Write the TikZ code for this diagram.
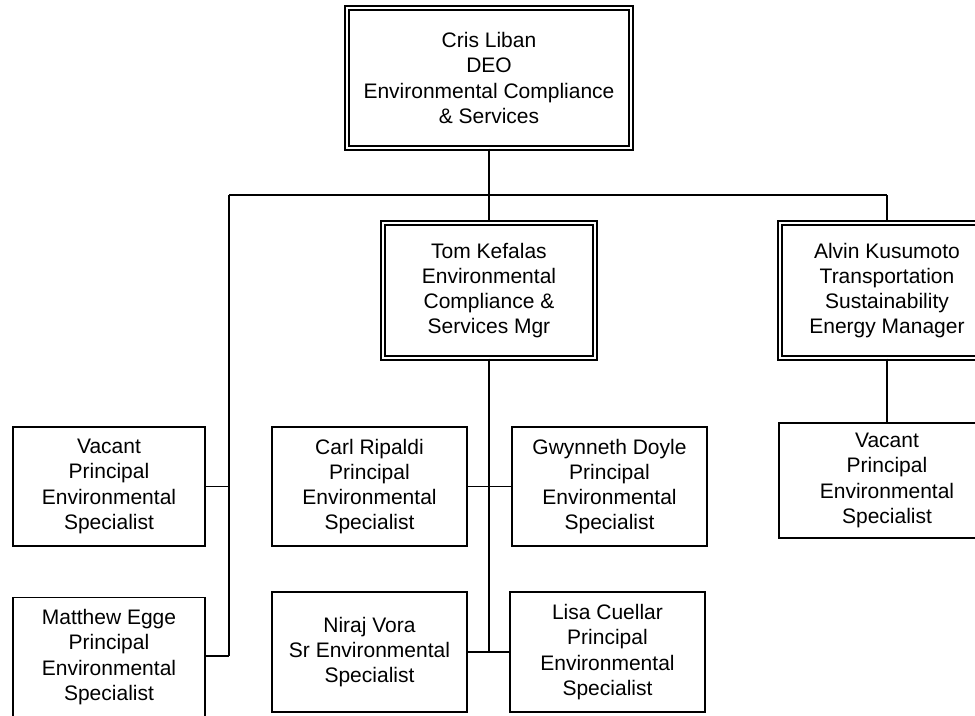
\documentclass[tikz,border=0pt]{standalone}
\usepackage{fontspec}
\setmainfont{Liberation Sans}
\begin{document}
\begin{tikzpicture}[x=0.75pt,y=-0.75pt,
  txt/.style={align=center,font=\fontsize{15.75}{18.9}\selectfont,inner sep=0pt},
  singlebox/.style={txt,draw,line width=1.2pt,rectangle},
  doublebox/.style={txt,draw,rectangle,double,line width=1pt,double distance=2pt},
  conn/.style={line width=1.4pt},
  thickconn/.style={line width=2pt}]
\useasboundingbox (0,0) rectangle (975,715);
\clip (0,0) rectangle (975,715);
\fill[white] (0,0) rectangle (975,715);
% nodes
\node[doublebox,minimum width=284*0.75pt,minimum height=140*0.75pt] (cris) at (489,78)
  {Cris Liban\\DEO\\Environmental Compliance\\\& Services};
\node[doublebox,minimum width=212*0.75pt,minimum height=135*0.75pt] (tom) at (489,290.5)
  {Tom Kefalas\\Environmental\\Compliance \&\\Services Mgr};
\node[doublebox,minimum width=214*0.75pt,minimum height=135*0.75pt] (alvin) at (887,290.5)
  {Alvin Kusumoto\\Transportation\\Sustainability\\Energy Manager};
\node[singlebox,minimum width=192*0.75pt,minimum height=119*0.75pt] (vacl) at (109,486.5)
  {Vacant\\Principal\\Environmental\\Specialist};
\node[singlebox,minimum width=192*0.75pt,minimum height=119*0.75pt] (matt) at (109,657)
  {Matthew Egge\\Principal\\Environmental\\Specialist};
\node[singlebox,minimum width=195*0.75pt,minimum height=119*0.75pt] (carl) at (369.5,486.5)
  {Carl Ripaldi\\Principal\\Environmental\\Specialist};
\node[singlebox,minimum width=195*0.75pt,minimum height=119*0.75pt] (gwyn) at (609.5,486.5)
  {Gwynneth Doyle\\Principal\\Environmental\\Specialist};
\node[singlebox,minimum width=195*0.75pt,minimum height=120*0.75pt] (niraj) at (369.5,652)
  {Niraj Vora\\Sr Environmental\\Specialist};
\node[singlebox,minimum width=195*0.75pt,minimum height=120*0.75pt] (lisa) at (607.5,652)
  {Lisa Cuellar\\Principal\\Environmental\\Specialist};
\node[singlebox,minimum width=216*0.75pt,minimum height=115*0.75pt] (vacr) at (887,480.5)
  {Vacant\\Principal\\Environmental\\Specialist};
% coordinates
\coordinate (busl) at (229,195);
\coordinate (busr) at (887,195);
\coordinate (lend) at (229,656);
\coordinate (tend) at (489,652);
% connectors
\draw[conn] (cris.south) -- (tom.north);
\draw[conn] (busl) -- (busr);
\draw[conn] (busl) -- (lend);
\draw[conn] (busr) -- (alvin.north);
\draw[conn] (alvin.south) -- (vacr.north);
\draw[conn] (vacl.east) -- (vacl.east -| busl);
\draw[conn] (matt.east |- lend) -- (lend);
\draw[thickconn] (tom.south) -- (tend);
\draw[conn] (carl.east) -- (gwyn.west);
\draw[conn] (niraj.east) -- (lisa.west);
\end{tikzpicture}
\end{document}
